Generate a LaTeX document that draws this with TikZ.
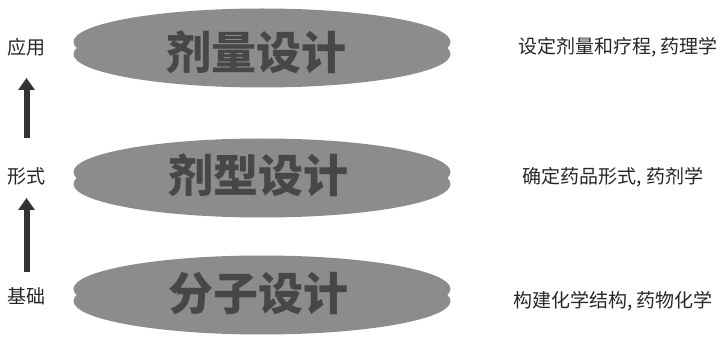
\documentclass[tikz,border=0pt]{standalone}
\usepackage{fontspec}
\newfontfamily\cjk{Noto Sans CJK SC}
\usetikzlibrary{shapes.geometric,arrows.meta}

\begin{document}
\begin{tikzpicture}[x=1pt,y=-1pt,
    layer/.style={ellipse,fill=black!45,minimum width=377pt,minimum height=67pt,inner sep=0pt},
    title/.style={font=\cjk\bfseries\fontsize{45}{45}\selectfont,text=black!72},
    side/.style={font=\cjk\fontsize{19}{19}\selectfont,text=black!85},
    up/.style={-{Triangle[width=16pt,length=12pt]},line width=6pt,black!80}]
    \useasboundingbox (0,0) rectangle (726,339);
    % stacked disks
    \node[layer] (doseB) at (262,54) {};
    \node[layer] (doseT) at (262,42) {};
    \node[layer] (formB) at (262,184) {};
    \node[layer] (formT) at (262,172) {};
    \node[layer] (molB) at (262,301) {};
    \node[layer] (molT) at (262,289) {};
    \node[title] (dose) at (256,52) {剂量设计};
    \node[title] (form) at (258,175) {剂型设计};
    \node[title] (mol) at (258,294) {分子设计};
    % left side
    \node[side] (app) at (27,47) {应用};
    \node[side] (shape) at (27,176) {形式};
    \node[side] (base) at (27,296) {基础};
    \coordinate (a1s) at (26.5,138);
    \coordinate (a1e) at (26.5,78);
    \coordinate (a2s) at (26.5,272);
    \coordinate (a2e) at (26.5,198);
    \draw[up] (a1s) -- (a1e);
    \draw[up] (a2s) -- (a2e);
    % right side
    \node[side] (doseR) at (618,47) {设定剂量和疗程, 药理学};
    \node[side] (formR) at (613,177) {确定药品形式, 药剂学};
    \node[side] (molR) at (613,301) {构建化学结构, 药物化学};
\end{tikzpicture}
\end{document}
